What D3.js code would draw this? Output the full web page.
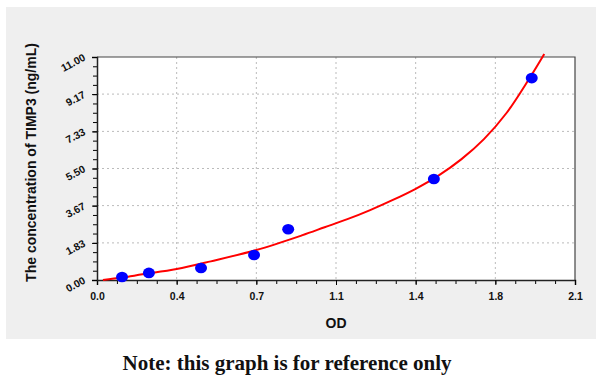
<!DOCTYPE html>
<html>
<head>
<meta charset="utf-8">
<script src="https://cdn.jsdelivr.net/npm/d3@7"></script>
<style>
  body { margin: 0; background: #fff; }
  .axis text { font-family: Arial, 'Liberation Sans', sans-serif; font-weight: bold; font-size: 10.5px; fill: #111; }
  .axis-label { font-family: Arial, 'Liberation Sans', sans-serif; font-weight: bold; font-size: 14px; fill: #111; }
  .note { font-family: 'Liberation Serif', 'DejaVu Serif', serif; font-weight: bold; font-size: 21px; fill: #111; }
</style>
</head>
<body>
<svg id="chart"></svg>
<script>
// measured standards (OD vs concentration)
const pointOD = [0.11, 0.228, 0.457, 0.69, 0.84, 1.48, 1.91];
const pointConc = [0.15, 0.35, 0.59, 1.23, 2.5, 4.98, 9.96];

// fitted curve
const curveOD = [0.026, 0.11, 0.2, 0.35, 0.5, 0.7, 0.9, 1.0, 1.1, 1.2, 1.3, 1.4, 1.5, 1.6, 1.7, 1.8, 1.9, 1.965];
const curveConc = [0, 0.12, 0.28, 0.54, 0.92, 1.48, 2.2, 2.6, 3.0, 3.45, 3.95, 4.5, 5.15, 5.95, 6.95, 8.25, 9.95, 11.15];

const xTicks = [0, 0.35, 0.7, 1.05, 1.4, 1.75, 2.1];
const xTickLabels = ['0.0', '0.4', '0.7', '1.1', '1.4', '1.8', '2.1'];
const yTicks = [0, 1.83, 3.67, 5.5, 7.33, 9.17, 11];
const yTickLabels = ['0.00', '1.83', '3.67', '5.50', '7.33', '9.17', '11.00'];

class StandardCurve {
  constructor(_config) {
    this.config = {
      parentElement: _config.parentElement,
      containerWidth: _config.containerWidth || 600,
      containerHeight: _config.containerHeight || 378,
      margin: { top: 57, bottom: 98, right: 25, left: 97 }
    };
    this.initVis();
  }

  initVis() {
    let vis = this;

    vis.width = vis.config.containerWidth - vis.config.margin.left - vis.config.margin.right;
    vis.height = vis.config.containerHeight - vis.config.margin.top - vis.config.margin.bottom;

    vis.svg = d3.select(vis.config.parentElement)
        .attr('width', vis.config.containerWidth)
        .attr('height', vis.config.containerHeight);

    // grey panel behind the plot
    vis.svg.append('rect')
        .attr('x', 6)
        .attr('y', 7)
        .attr('width', 590)
        .attr('height', 332)
        .attr('fill', '#efefef');

    vis.chart = vis.svg.append('g')
        .attr('transform', `translate(${vis.config.margin.left},${vis.config.margin.top})`);

    vis.xScale = d3.scaleLinear().domain([0, 2.1]).range([0, vis.width]);
    vis.yScale = d3.scaleLinear().domain([0, 11]).range([vis.height, 0]);

    vis.chart.append('rect')
        .attr('width', vis.width)
        .attr('height', vis.height)
        .attr('fill', '#fff');

    vis.updateVis();
  }

  updateVis() {
    let vis = this;

    // minor tick positions, 4 steps per major interval
    vis.xMinor = d3.range(0, 25).map(i => i * 2.1 / 24);
    vis.yMinor = d3.range(0, 25).map(i => i * 11 / 24);

    vis.renderVis();
  }

  renderVis() {
    let vis = this;

    // grid
    vis.chart.append('g')
        .selectAll('line')
        .data(xTicks.slice(1, -1))
      .join('line')
        .attr('x1', d => vis.xScale(d))
        .attr('x2', d => vis.xScale(d))
        .attr('y1', 0)
        .attr('y2', vis.height)
        .attr('stroke', '#bbb')
        .attr('stroke-dasharray', '2,3');

    vis.chart.append('g')
        .selectAll('line')
        .data(yTicks.slice(1, -1))
      .join('line')
        .attr('x1', 0)
        .attr('x2', vis.width)
        .attr('y1', d => vis.yScale(d))
        .attr('y2', d => vis.yScale(d))
        .attr('stroke', '#bbb')
        .attr('stroke-dasharray', '2,3');

    // frame top/right
    vis.chart.append('path')
        .attr('d', `M0,0H${vis.width}V${vis.height}`)
        .attr('fill', 'none')
        .attr('stroke', '#444')
        .attr('stroke-width', 1.2);

    // minor ticks
    vis.chart.append('g')
        .attr('transform', `translate(0,${vis.height})`)
        .call(d3.axisBottom(vis.xScale).tickValues(vis.xMinor).tickSize(4).tickFormat(''))
        .call(g => g.select('.domain').remove());
    vis.chart.append('g')
        .call(d3.axisLeft(vis.yScale).tickValues(vis.yMinor).tickSize(4).tickFormat(''))
        .call(g => g.select('.domain').remove());

    // major axes
    vis.xAxisG = vis.chart.append('g')
        .attr('class', 'axis x-axis')
        .attr('transform', `translate(0,${vis.height})`)
        .call(d3.axisBottom(vis.xScale).tickValues(xTicks).tickSize(5).tickPadding(8)
          .tickFormat((d, i) => xTickLabels[i]));
    vis.xAxisG.select('.domain').attr('stroke-width', 1.5).attr('stroke', '#222');

    vis.yAxisG = vis.chart.append('g')
        .attr('class', 'axis y-axis')
        .call(d3.axisLeft(vis.yScale).tickValues(yTicks).tickSize(5).tickPadding(7)
          .tickFormat((d, i) => yTickLabels[i]));
    vis.yAxisG.select('.domain').attr('stroke-width', 1.5).attr('stroke', '#222');
    vis.yAxisG.selectAll('text')
        .attr('transform', function() {
          const t = d3.select(this);
          return `rotate(-28,${t.attr('x')},0)`;
        })
        .attr('dy', '0.25em');

    // fitted curve
    const curveData = curveOD.map((d, i) => [d, curveConc[i]]);
    vis.chart.append('path')
        .datum(curveData)
        .attr('fill', 'none')
        .attr('stroke', '#ff0000')
        .attr('stroke-width', 2)
        .attr('d', d3.line()
          .x(d => vis.xScale(d[0]))
          .y(d => vis.yScale(d[1]))
          .curve(d3.curveCatmullRom.alpha(0.5)));

    // points
    vis.chart.selectAll('.dot')
        .data(pointOD.map((d, i) => [d, pointConc[i]]))
      .join('ellipse')
        .attr('class', 'dot')
        .attr('cx', d => vis.xScale(d[0]))
        .attr('cy', d => vis.yScale(d[1]))
        .attr('rx', 6)
        .attr('ry', 5.3)
        .attr('fill', '#0000ff');

    // axis labels
    vis.chart.append('text')
        .attr('class', 'axis-label')
        .attr('x', vis.width / 2)
        .attr('y', vis.height + 48)
        .style('text-anchor', 'middle')
        .text('OD');

    vis.chart.append('text')
        .attr('class', 'axis-label')
        .attr('x', -(vis.height / 2) + 6)
        .attr('y', -61)
        .style('text-anchor', 'middle')
        .attr('transform', 'rotate(-90)')
        .text('The concentration of TIMP3 (ng/mL)');

    vis.svg.append('text')
        .attr('class', 'note')
        .attr('x', 287)
        .attr('y', 370)
        .style('text-anchor', 'middle')
        .text('Note: this graph is for reference only');
  }
}

new StandardCurve({ parentElement: '#chart' });
</script>
</body>
</html>
